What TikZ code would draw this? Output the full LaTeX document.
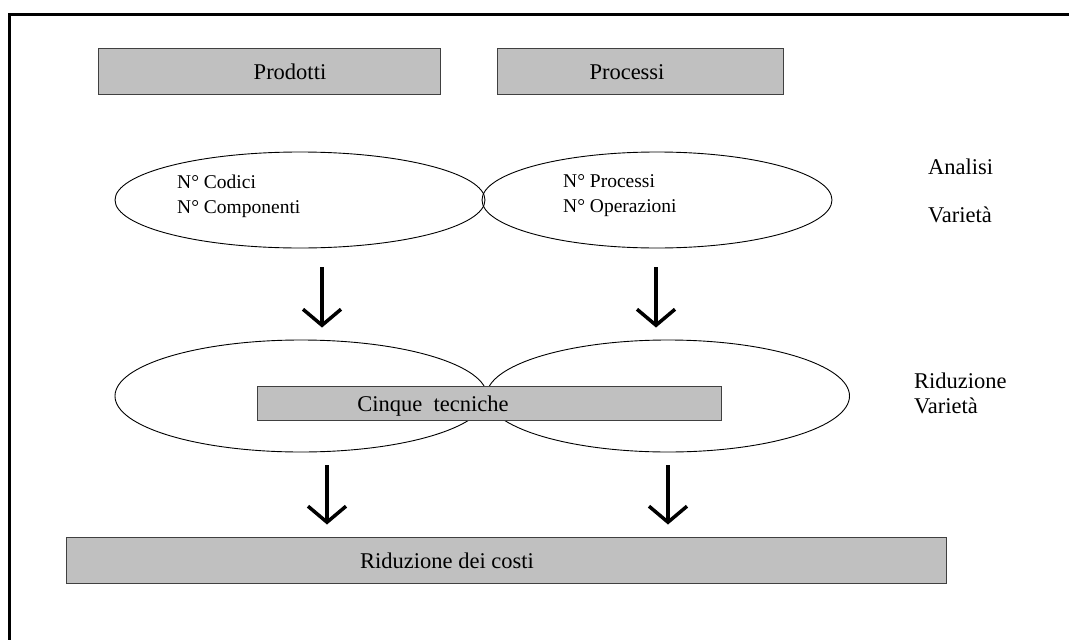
\documentclass[tikz,border=0pt]{standalone}
\usepackage{fontspec}
\setmainfont{Liberation Serif}
\usepackage{tikz}
\usetikzlibrary{shapes.geometric, arrows.meta, positioning, calc}
\definecolor{boxgray}{HTML}{C0C0C0}
\definecolor{boxedge}{HTML}{404040}

\begin{document}
\begin{tikzpicture}[
    x=1pt, y=-1pt,
    graybox/.style={draw=boxedge, fill=boxgray, line width=1pt, inner sep=0pt,
                    minimum height=#1, text height=19pt, text depth=3pt,
                    font=\fontsize{22.5}{26}\selectfont},
    graybox/.default=46pt,
    oval/.style={draw, ellipse, line width=0.9pt, inner sep=0pt},
    itemtext/.style={align=left, anchor=west, inner sep=0pt,
                     font=\fontsize{19.5}{25}\selectfont},
    sidetext/.style={align=left, anchor=west, inner sep=0pt,
                     font=\fontsize{22.5}{25}\selectfont},
    down/.style={-{Straight Barb[length=16pt, width=38pt]}, line width=3.5pt},
]
    \useasboundingbox (0,0) rectangle (1069,640);

    % Frame
    \draw[line width=3pt] (9.5,640) -- (9.5,14.5) -- (1069,14.5);

    % Row 1: Prodotti + Processi
    \node[graybox, minimum width=342pt] (prodotti) at (269,71)
        {\hspace*{42pt}Prodotti};
    \node[graybox, minimum width=286pt] (processi) at (640,71)
        {Processi\hspace*{26pt}};

    % Row 2: Analisi
    \node[oval, minimum width=370pt, minimum height=96pt] (codici) at (300,200) {};
    \node[oval, minimum width=350pt, minimum height=96pt] (processiN) at (657,200) {};
    \node[itemtext] (codicitxt) at (177,196) {N° Codici\\N° Componenti};
    \node[itemtext] (processitxt) at (563,196) {N° Processi\\N° Operazioni};
    \node[sidetext] (analisi) at (928,167) {Analisi};
    \node[sidetext] (varieta) at (928,215) {Varietà};

    % Row 3: Riduzione
    \node[oval, minimum width=372pt, minimum height=112pt] (ridL) at (301,396) {};
    \node[oval, minimum width=363pt, minimum height=112pt] (ridR) at (668,396) {};
    \node[graybox=34pt, minimum width=464pt] (tecniche) at (489,403)
        {Cinque~~tecniche\hspace*{112pt}};
    \node[sidetext] (riduzione) at (914,393) {Riduzione\\Varietà};

    % Row 4: Costi
    \node[graybox, minimum width=880pt] (costi) at (506,560)
        {Riduzione dei costi\hspace*{118pt}};

    % Connections
    \draw[down] ([xshift=22pt, yshift=-19pt]codici.south)
        -- ([xshift=21pt, yshift=12pt]ridL.north);
    \draw[down] ([xshift=-1pt, yshift=-19pt]processiN.south)
        -- ([xshift=-12pt, yshift=12pt]ridR.north);
    \draw[down] ([xshift=26pt, yshift=-13pt]ridL.south)
        -- ([xshift=-179pt, yshift=12pt]costi.north);
    \draw[down] ([xshift=0pt, yshift=-13pt]ridR.south)
        -- ([xshift=162pt, yshift=12pt]costi.north);
\end{tikzpicture}
\end{document}
